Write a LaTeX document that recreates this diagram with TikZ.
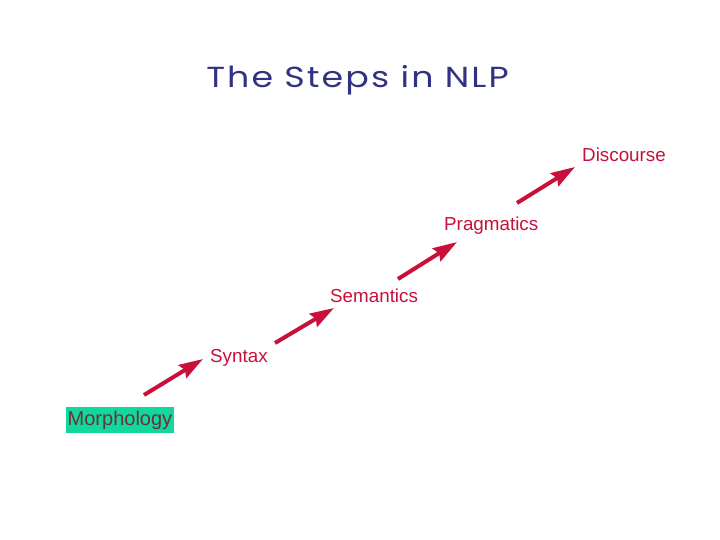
\documentclass[tikz,border=0pt]{standalone}
\usepackage{fontspec}
\setmainfont{Liberation Sans}
\newfontfamily\titlefont[LetterSpace=6]{Poppins}
\usetikzlibrary{arrows.meta}
\definecolor{titleblue}{RGB}{50,50,130}
\definecolor{stepred}{RGB}{200,16,58}
\definecolor{morphteal}{RGB}{18,216,160}
\definecolor{morphtext}{RGB}{105,50,55}

\begin{document}
\begin{tikzpicture}[x=1pt,y=-1pt,
  label/.style={inner sep=0pt,anchor=west,text=stepred,
                font=\fontsize{18.8}{21}\selectfont},
  arrow/.style={-{Stealth[length=24pt,width=15pt,inset=3pt]},
                line width=4pt,draw=stepred}
]
  \useasboundingbox[fill=white] (0,0) rectangle (720,540);
  \node[text=titleblue,anchor=base,xscale=1.2,
        font=\titlefont\fontsize{29}{32}\selectfont]
    (title) at (357.5,88) {The Steps in NLP};
  \node[fill=morphteal,text=morphtext,anchor=west,inner xsep=1.5pt,
        minimum height=24pt,font=\fontsize{20}{22}\selectfont]
    (morph) at (66,420) {Morphology};
  \node[label] (syntax) at (210,358) {Syntax};
  \node[label] (semantics) at (330,296) {Semantics};
  \node[label] (pragmatics) at (444,226) {Pragmatics};
  \node[label] (discourse) at (582,155) {Discourse};
  \coordinate (a1) at (144,395);
  \coordinate (b1) at (203,359);
  \coordinate (a2) at (275,343);
  \coordinate (b2) at (334,308);
  \coordinate (a3) at (398,279);
  \coordinate (b3) at (457,242);
  \coordinate (a4) at (517,203);
  \coordinate (b4) at (575,167);
  \draw[arrow] (a1) -- (b1);
  \draw[arrow] (a2) -- (b2);
  \draw[arrow] (a3) -- (b3);
  \draw[arrow] (a4) -- (b4);
\end{tikzpicture}
\end{document}
